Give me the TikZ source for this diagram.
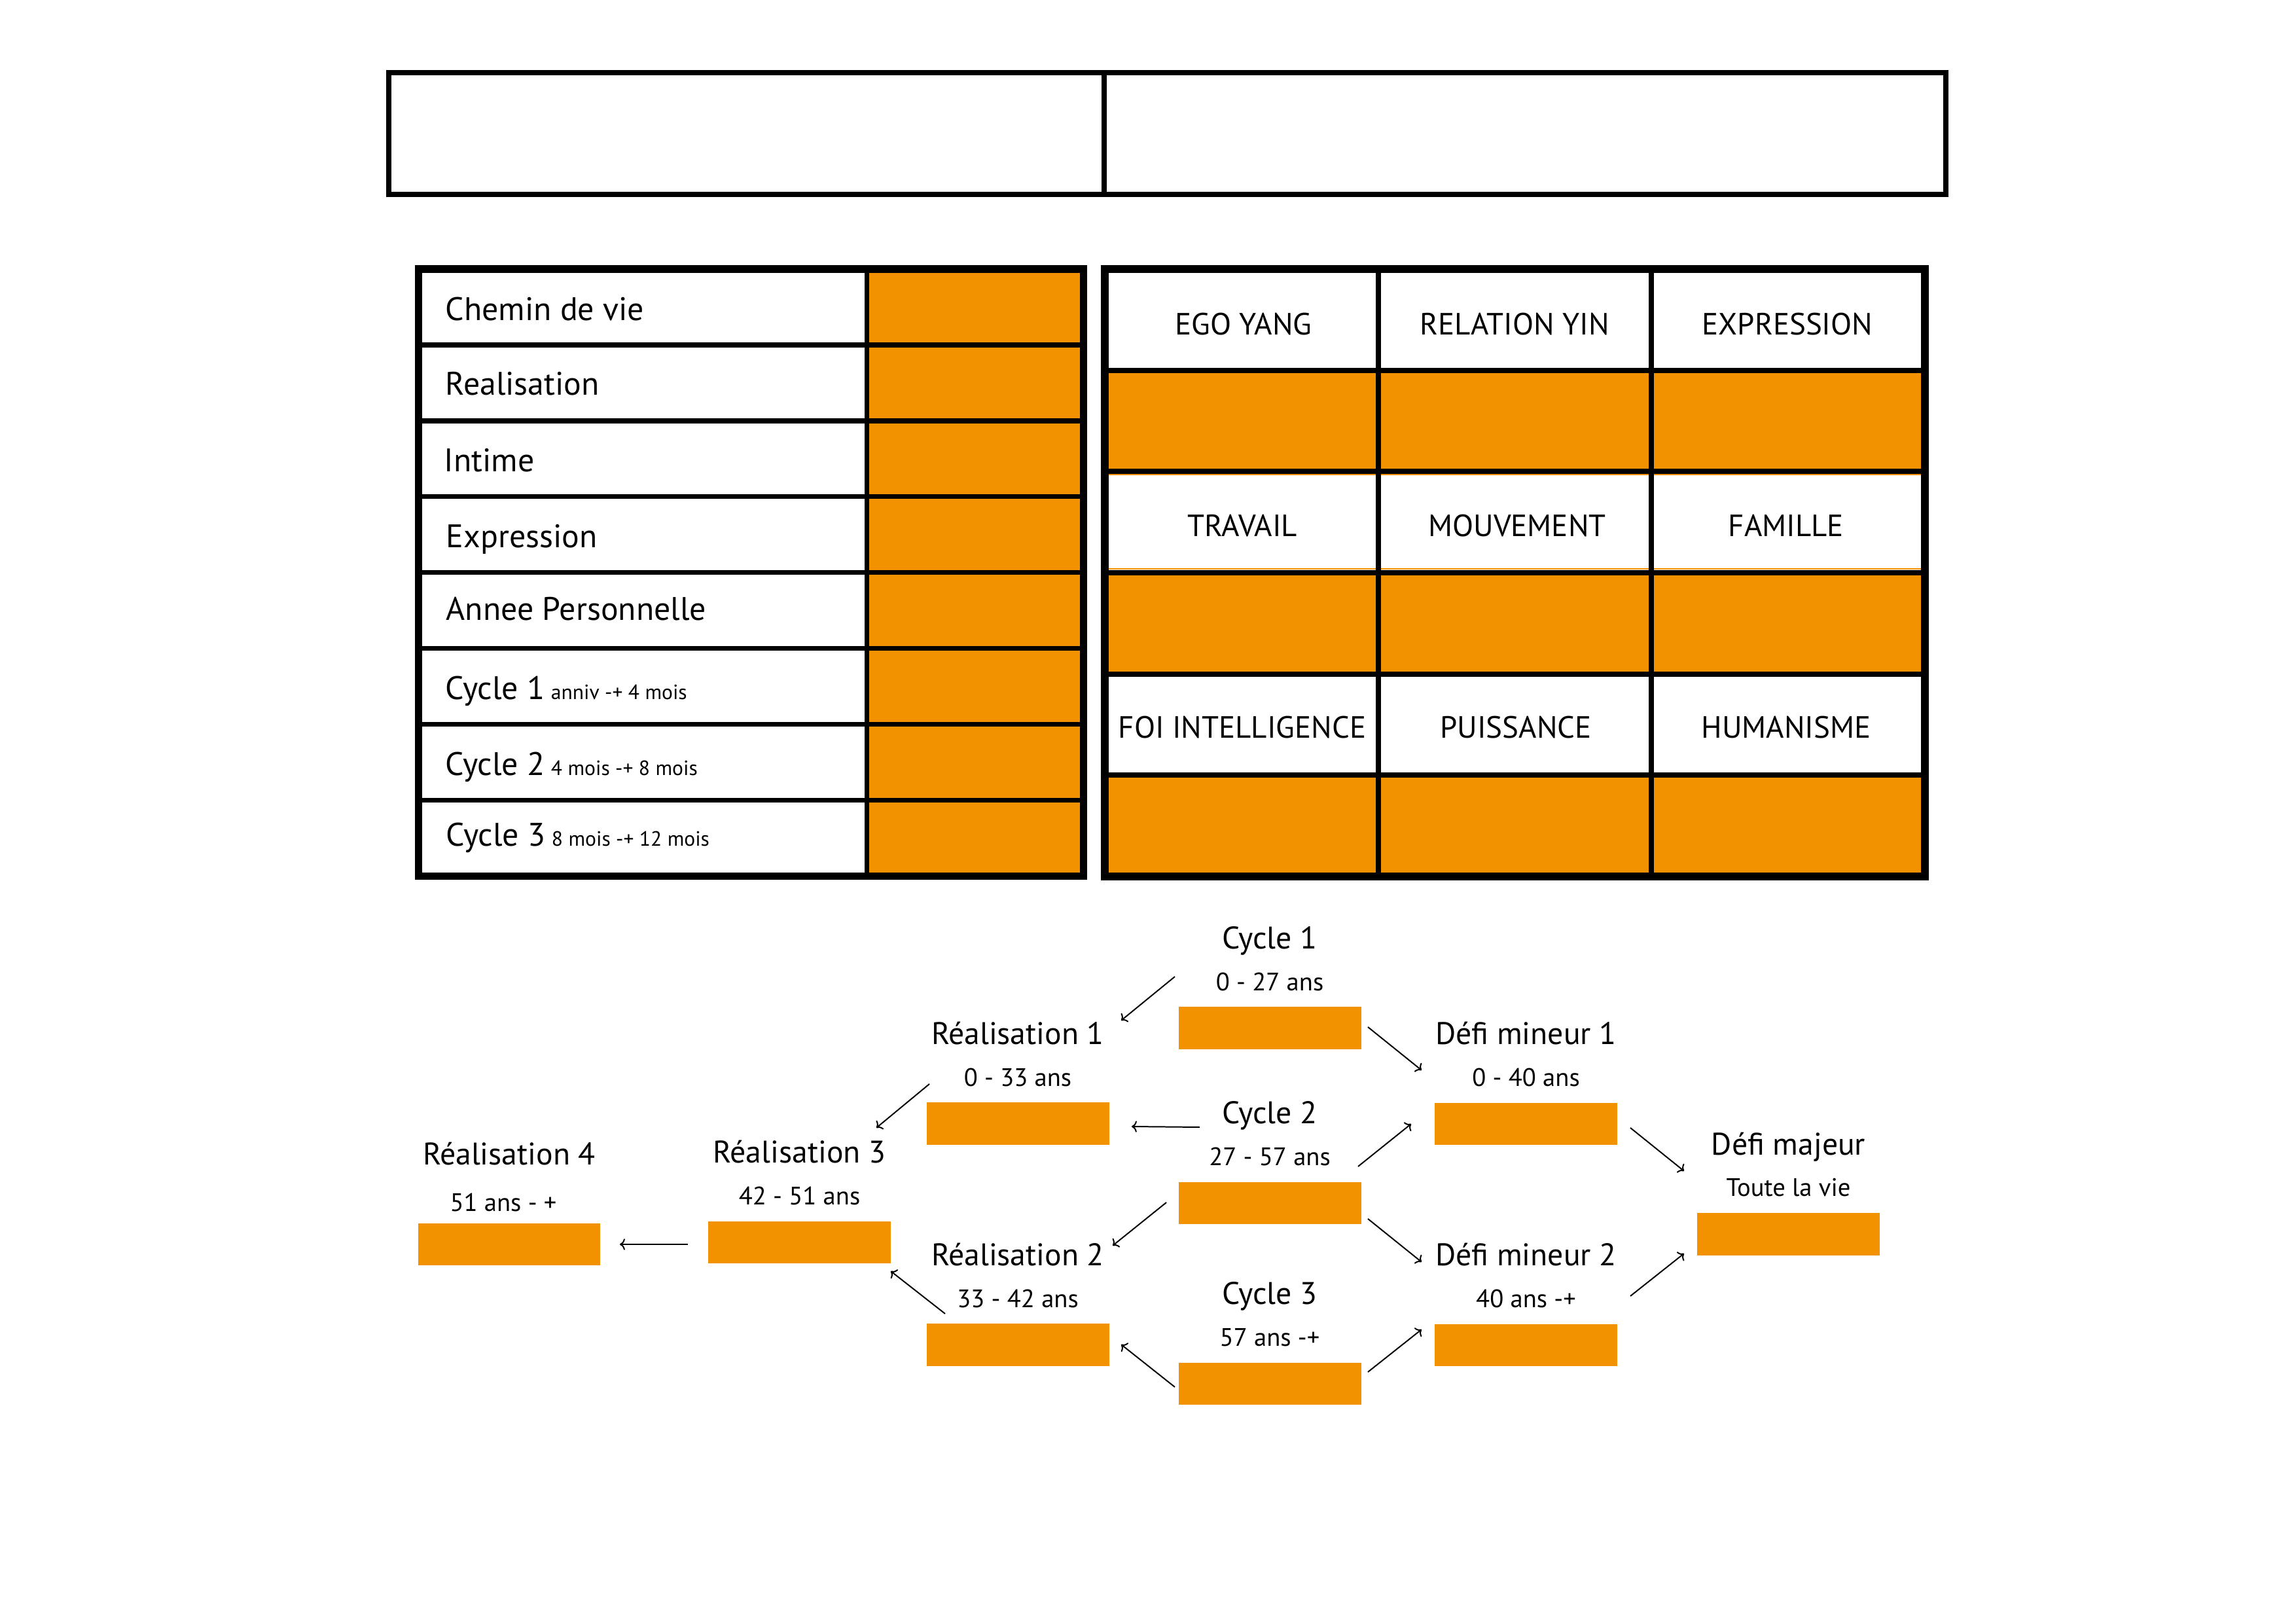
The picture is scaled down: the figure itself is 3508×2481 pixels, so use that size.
\documentclass[tikz,border=0pt]{standalone}
\usepackage{fontspec}
\setmainfont{PT Sans}
\usetikzlibrary{arrows.meta,calc}
\definecolor{orng}{RGB}{242,146,0}
\newcommand{\smalltxt}[1]{\hspace{-0.08em}{\fontsize{7.6}{9}\selectfont #1}}
\begin{document}
\begin{tikzpicture}[x=0.084664mm,y=-0.084664mm,
  obox/.style={fill=orng,draw=none,minimum width=23.62mm,minimum height=5.50mm,inner sep=0pt},
  ttl/.style={font=\fontsize{11.5}{14}\selectfont,anchor=base,inner sep=0pt},
  sub/.style={font=\fontsize{9.3}{12}\selectfont,anchor=base,inner sep=0pt},
  cell/.style={font=\fontsize{11.3}{14}\selectfont,anchor=base,inner sep=0pt},
  lcell/.style={font=\fontsize{12}{14}\selectfont,anchor=base west,inner sep=0pt},
  arr/.style={line width=0.48pt,-{To[length=1.9pt,width=4.2pt]}},
  thick line/.style={line width=2.8pt},
  mid line/.style={line width=1.75pt}]
\fill[white] (0,0) rectangle (3508,2481);
\useasboundingbox (0,0) rectangle (3508,2481);

% ---------- top empty box ----------
\draw[line width=1.93pt] (594,111) rectangle (2973,297);
\draw[line width=1.93pt] (1687,111) -- (1687,297);

% ---------- left table ----------
\fill[orng] (1324.5,411) rectangle (1655.5,1338.5);
\foreach \k in {1,...,7}
  \draw[mid line] (634,{411+115.94*\k}) -- (1661,{411+115.94*\k});
\draw[mid line] (1324.5,411) -- (1324.5,1338.5);
\draw[thick line] (639.5,411) rectangle (1655.5,1338.5);

\node[lcell] (l1) at (680,490) {Chemin de vie};
\node[lcell] (l2) at (680,604) {Realisation};
\node[lcell] (l3) at (678,721) {Intime};
\node[lcell] (l4) at (681,837) {Expression};
\node[lcell] (l5) at (681,948) {Annee Personnelle};
\node[lcell] (l6) at (680,1069) {Cycle 1 \smalltxt{anniv -+ 4 mois}};
\node[lcell] (l7) at (680,1185) {Cycle 2 \smalltxt{4 mois -+ 8 mois}};
\node[lcell] (l8) at (681,1293) {Cycle 3 \smalltxt{8 mois -+ 12 mois}};

% ---------- right table ----------
\fill[orng] (1688,565.7) rectangle (2941,720.3);
\fill[orng] (1688,875) rectangle (2941,1029.7);
\fill[orng] (1688,1184.3) rectangle (2941,1339);
\draw[orng,line width=0.48pt] (1694,725.5) -- (2935,725.5);
\draw[orng,line width=0.48pt] (1694,869.5) -- (2935,869.5);
\foreach \yy in {565.7,720.3,875,1029.7,1184.3}
  \draw[line width=1.93pt] (1682,\yy) -- (2947,\yy);
\draw[line width=1.93pt] (2105.5,411) -- (2105.5,1339);
\draw[line width=1.93pt] (2523,411) -- (2523,1339);
\draw[line width=2.89pt] (1688,411) rectangle (2941,1339);

\node[cell] (r11) at (1900,511.5) {EGO YANG};
\node[cell] (r12) at (2314,511.5) {RELATION YIN};
\node[cell] (r13) at (2731,511.5) {EXPRESSION};
\node[cell] (r21) at (1898,819.5) {TRAVAIL};
\node[cell] (r22) at (2318,819.5) {MOUVEMENT};
\node[cell] (r23) at (2729,819.5) {FAMILLE};
\node[cell] (r31) at (1898,1128) {FOI INTELLIGENCE};
\node[cell] (r32) at (2316,1128) {PUISSANCE};
\node[cell] (r33) at (2729,1128) {HUMANISME};

% ---------- lower diagram ----------
\node[obox] (c1) at (1940,1570.5) {};
\node[obox] (c2) at (1940,1838) {};
\node[obox] (c3) at (1940,2114) {};
\node[obox] (re1) at (1555,1716.5) {};
\node[obox] (re2) at (1555,2054.5) {};
\node[obox] (re3) at (1221.5,1898) {};
\node[obox] (re4) at (778,1901) {};
\node[obox] (d1) at (2331.5,1717) {};
\node[obox] (d2) at (2331.5,2055) {};
\node[obox] (dm) at (2732.5,1885.5) {};

\node[ttl] (c1t) at ($(c1.north)+(0,-88)$) {Cycle 1};
\node[sub] (c1s) at ($(c1.north)+(0,-24)$) {0 - 27 ans};
\node[ttl] (c2t) at ($(c2.north)+(0,-88)$) {Cycle 2};
\node[sub] (c2s) at ($(c2.north)+(0,-24)$) {27 - 57 ans};
\node[ttl] (c3t) at ($(c3.north)+(0,-88)$) {Cycle 3};
\node[sub] (c3s) at ($(c3.north)+(0,-24)$) {57 ans -+};
\node[ttl] (re1t) at ($(re1.north)+(0,-88)$) {Réalisation 1};
\node[sub] (re1s) at ($(re1.north)+(0,-24)$) {0 - 33 ans};
\node[ttl] (re2t) at ($(re2.north)+(0,-88)$) {Réalisation 2};
\node[sub] (re2s) at ($(re2.north)+(0,-24)$) {33 - 42 ans};
\node[ttl] (re3t) at ($(re3.north)+(0,-88)$) {Réalisation 3};
\node[sub] (re3s) at ($(re3.north)+(0,-24)$) {42 - 51 ans};
\node[ttl] (re4t) at ($(re4.north)+(0,-88)$) {Réalisation 4};
\node[sub] (re4s) at ($(re4.north)+(-9,-17)$) {51 ans - +};
\node[ttl] (d1t) at ($(d1.north)+(0,-88)$) {Défi mineur 1};
\node[sub] (d1s) at ($(d1.north)+(0,-24)$) {0 - 40 ans};
\node[ttl] (d2t) at ($(d2.north)+(0,-88)$) {Défi mineur 2};
\node[sub] (d2s) at ($(d2.north)+(0,-24)$) {40 ans -+};
\node[ttl] (dmt) at ($(dm.north)+(0,-88)$) {Défi majeur};
\node[sub] (dms) at ($(dm.north)+(0,-25)$) {Toute la vie};

% arrow end points
\coordinate (a1s) at (1795,1492);  \coordinate (a1e) at (1713,1559);
\coordinate (a2s) at (2090,1569);  \coordinate (a2e) at (2172,1635);
\coordinate (a3s) at (1833,1722);  \coordinate (a3e) at (1729,1721);
\coordinate (a4s) at (2075,1782);  \coordinate (a4e) at (2156,1717);
\coordinate (a5s) at (1782,1837);  \coordinate (a5e) at (1700,1903);
\coordinate (a6s) at (2090,1862);  \coordinate (a6e) at (2172,1928);
\coordinate (a7s) at (1795,2119);  \coordinate (a7e) at (1713,2054);
\coordinate (a8s) at (2090,2096);  \coordinate (a8e) at (2172,2031);
\coordinate (a9s) at (2491,1723);  \coordinate (a9e) at (2573,1789);
\coordinate (a10s) at (2491,1980); \coordinate (a10e) at (2573,1915);
\coordinate (a11s) at (1420,1656); \coordinate (a11e) at (1339,1723);
\coordinate (a12s) at (1051,1901); \coordinate (a12e) at (947,1901);
\coordinate (a13s) at (1444,2007); \coordinate (a13e) at (1361,1942);

\foreach \i in {1,...,13}
  \draw[arr] (a\i s) -- (a\i e);
\end{tikzpicture}
\end{document}
